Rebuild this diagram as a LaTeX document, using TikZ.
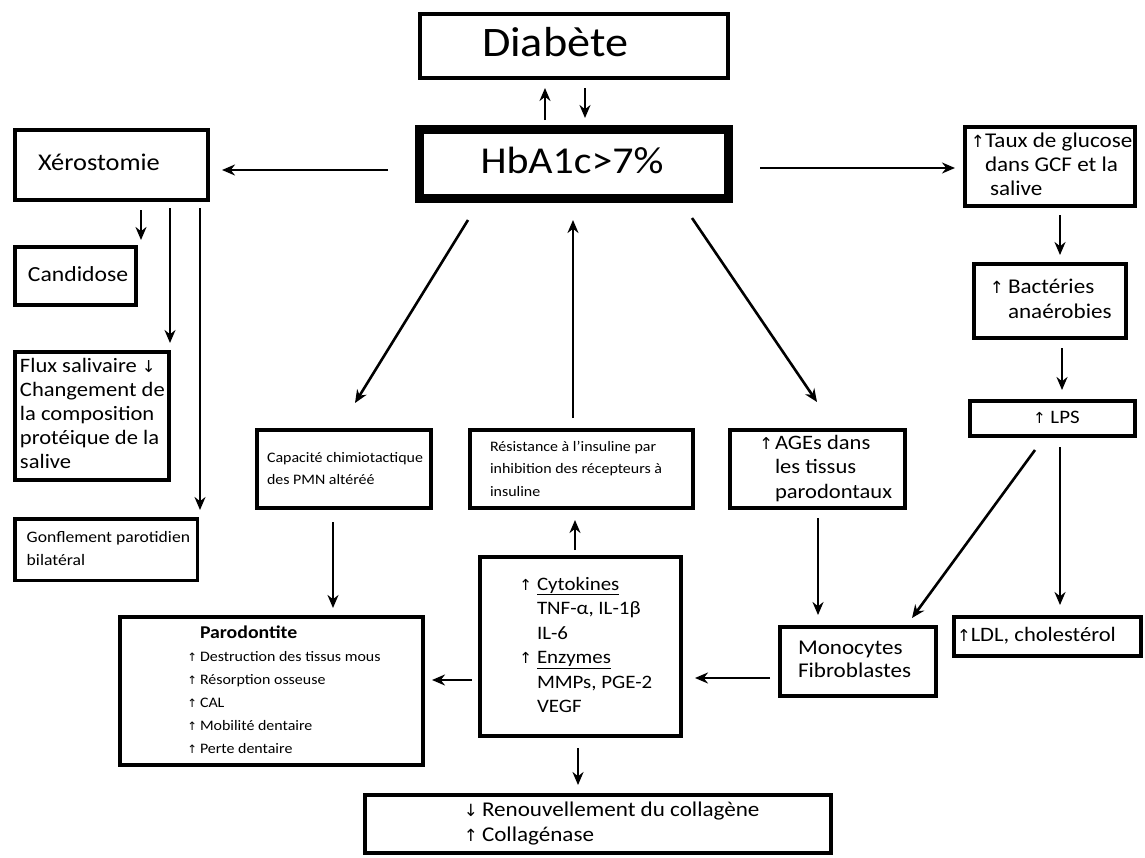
\documentclass[tikz,border=0pt]{standalone}
\usepackage{fontspec}
\setmainfont{Carlito}[FakeStretch=1.1]
\newfontfamily\arrowfont{DejaVu Sans}[Scale=0.8]
\usetikzlibrary{arrows.meta}
\newcommand\upar{{\arrowfont ↑}}
\newcommand\dnar{{\arrowfont ↓}}
\newcommand\fsz[2]{\fontsize{#1}{#2}\selectfont}
\newcommand\boxtext[3]{\makebox[#1][l]{\hspace*{#2}\raisebox{-2.5pt}{\begin{tabular}{@{}l@{}}#3\end{tabular}}}}

\begin{document}
\begin{tikzpicture}[x=1pt, y=-1pt,
	box/.style={draw, line width=4pt, inner sep=0pt},
	arr/.style={line width=2.6pt, -{Stealth[length=13pt,width=11pt]}}]
	\useasboundingbox[fill=white] (0,0) rectangle (1145,857);
	\node[box, minimum height=64pt, font=\fsz{42}{50}] (diab) at (574,46) {\boxtext{308pt}{62pt}{Diabète}};
	\node[box, line width=9pt, minimum height=69pt, font=\fsz{38}{46}] (hba) at (574,164) {\boxtext{309pt}{61pt}{HbA1c>7\%}};
	\node[box, minimum height=70pt, font=\fsz{24}{29}] (xero) at (111.5,165) {\boxtext{193pt}{23pt}{Xérostomie}};
	\node[box, minimum height=58pt, font=\fsz{21.5}{26}] (cand) at (75.5,276) {\boxtext{121pt}{13pt}{Candidose}};
	\node[box, minimum height=128pt, font=\fsz{20.5}{24}] (flux) at (92,416) {\boxtext{154pt}{5pt}{Flux salivaire \dnar\\Changement de\\la composition\\protéique de la\\salive}};
	\node[box, line width=3.5pt, minimum height=61.5pt, font=\fsz{16}{23}] (gonf) at (106,549.5) {\boxtext{182.5pt}{12pt}{Gonflement parotidien\\bilatéral}};
	\node[box, minimum height=78pt, font=\fsz{14.5}{21.5}] (cap) at (344,469) {\boxtext{174pt}{10pt}{Capacité chimiotactique\\des PMN altéréé}};
	\node[box, minimum height=78pt, font=\fsz{14.5}{22.5}] (res) at (581.5,469) {\boxtext{223pt}{20pt}{Résistance à l'insuline par\\inhibition des récepteurs à\\insuline}};
	\node[box, minimum height=78pt, font=\fsz{20.5}{24.5}] (ages) at (817.5,469) {\boxtext{175pt}{45pt}{\llap{\upar\hspace{2pt}}AGEs dans\\les tissus\\parodontaux}};
	\node[box, minimum height=179pt, font=\fsz{19}{24.5}] (cyto) at (580.5,646.5) {\boxtext{201pt}{57pt}{\llap{\upar\hspace{5pt}}\underline{Cytokines}\\TNF-α, IL-1β\\IL-6\\\llap{\upar\hspace{5pt}}\underline{Enzymes}\\MMPs, PGE-2\\VEGF}};
	\node[box, minimum height=148pt, font=\fsz{14.5}{23}] (paro) at (271.5,691) {\boxtext{303pt}{80pt}{{\bfseries\fsz{18}{23}Parodontite}\\\llap{\upar\hspace{3pt}}Destruction des tissus mous\\\llap{\upar\hspace{3pt}}Résorption osseuse\\\llap{\upar\hspace{3pt}}CAL\\\llap{\upar\hspace{3pt}}Mobilité dentaire\\\llap{\upar\hspace{3pt}}Perte dentaire}};
	\node[box, minimum height=69pt, font=\fsz{21}{23.5}] (mono) at (858,661.5) {\boxtext{156pt}{18pt}{Monocytes\\Fibroblastes}};
	\node[box, minimum height=39pt, font=\fsz{20.5}{24}] (ldl) at (1047.5,636.5) {\boxtext{187pt}{3pt}{\upar LDL, cholestérol}};
	\node[box, minimum height=35pt, font=\fsz{19}{23}] (lps) at (1052.5,418.5) {\boxtext{165pt}{63pt}{\upar\ LPS}};
	\node[box, minimum height=74pt, font=\fsz{21}{25}] (bact) at (1050,301) {\boxtext{152pt}{34pt}{\llap{\upar\hspace{4pt}}Bactéries\\anaérobies}};
	\node[box, minimum height=79pt, font=\fsz{21}{24}] (taux) at (1050,166.5) {\boxtext{170pt}{20pt}{\llap{\upar}Taux de glucose\\dans GCF et la\\\hspace*{5pt}salive}};
	\node[box, minimum height=58pt, font=\fsz{21}{25}] (ren) at (598,824) {\boxtext{466pt}{117pt}{\llap{\dnar\hspace{4pt}}Renouvellement du collagène\\\llap{\upar\hspace{4pt}}Collagénase}};
	\draw[arr] ([shift={(-29,-5)}]hba.north) -- ([shift={(-29,8)}]diab.south);
	\draw[arr] ([shift={(11,8)}]diab.south) -- ([shift={(11,-7)}]hba.north);
	\draw[arr] ([shift={(-27,6)}]hba.west) -- ([shift={(12,5)}]xero.east);
	\draw[arr] ([shift={(27,4)}]hba.east) -- ([shift={(-8,1.5)}]taux.west);
	\draw[arr] ([shift={(10,7)}]taux.south) -- ([shift={(10,-7)}]bact.north);
	\draw[arr] ([shift={(12,8)}]bact.south) -- ([shift={(9.5,-9)}]lps.north);
	\draw[arr] ([shift={(29.5,8)}]xero.south) -- ([shift={(3,-5)}]cand.north east);
	\draw[arr] ([shift={(58.5,6)}]xero.south) -- ([shift={(-1,-7)}]flux.north east);
	\draw[arr] ([shift={(88.5,6)}]xero.south) -- ([shift={(1,-7)}]gonf.north east);
	\draw[arr] ([shift={(-106,17)}]hba.south) -- ([shift={(11,-25)}]cap.north);
	\draw[arr] ([shift={(-8.5,-10)}]res.north) -- ([shift={(-1,17)}]hba.south);
	\draw[arr] ([shift={(118,15)}]hba.south) -- ([shift={(-0.5,-26)}]ages.north);
	\draw[arr] ([shift={(-11,12)}]cap.south) -- ([shift={(61.5,-7)}]paro.north);
	\draw[arr] ([shift={(-5.5,-5)}]cyto.north) -- ([shift={(-6.5,10)}]res.south);
	\draw[arr] ([shift={(-6,33.5)}]cyto.west) -- ([shift={(7,-11)}]paro.east);
	\draw[arr] ([shift={(-8,16.5)}]mono.west) -- ([shift={(12,31.5)}]cyto.east);
	\draw[arr] ([shift={(0.5,8)}]ages.south) -- ([shift={(-40,-10)}]mono.north);
	\draw[arr] ([shift={(-17.5,12)}]lps.south) -- ([shift={(54,-7)}]mono.north);
	\draw[arr] ([shift={(7.5,9)}]lps.south) -- ([shift={(12.5,-10)}]ldl.north);
	\draw[arr] ([shift={(-2.5,10)}]cyto.south) -- ([shift={(-20,-8)}]ren.north);
\end{tikzpicture}
\end{document}
